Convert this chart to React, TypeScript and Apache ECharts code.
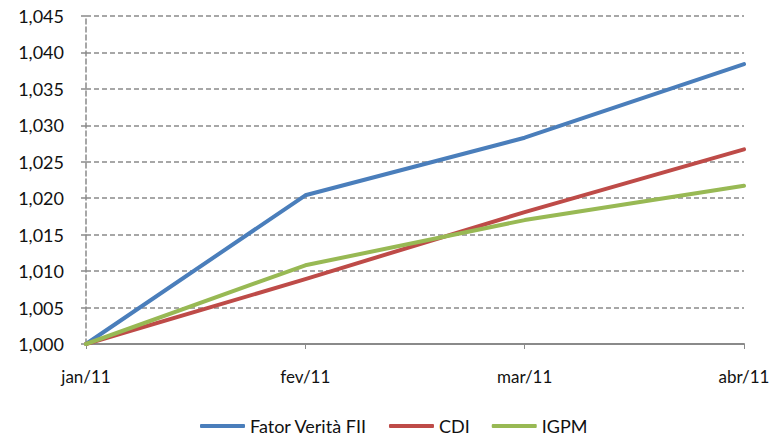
import React, { useEffect, useRef } from "react";
import * as echarts from "echarts";

const categories = ["jan/11", "fev/11", "mar/11", "abr/11"];
const fatorVerita = [1.0, 1.0204, 1.0283, 1.0384];
const cdi = [1.0, 1.0089, 1.0181, 1.0267];
const igpm = [1.0, 1.0108, 1.017, 1.0217];
const seriesNames = ["Fator Verità FII", "CDI", "IGPM"];
const colors = ["#4A7EBB", "#BE4B48", "#98B954"];

const FONT = "Lato, 'Open Sans', sans-serif";
const GRAY = "#8a8a8a";

export default function App() {
  const ref = useRef<HTMLDivElement>(null);
  useEffect(() => {
    if (!ref.current) return;
    const chart = echarts.init(ref.current, undefined, { renderer: "svg" });
    const data = [fatorVerita, cdi, igpm];
    chart.setOption({
      animation: false,
      backgroundColor: "#ffffff",
      textStyle: { fontFamily: FONT },
      grid: { left: 86, right: 29, top: 16, bottom: 92 },
      legend: {
        data: seriesNames,
        top: 411,
        left: 195,
        padding: 5,
        icon: "roundRect",
        itemWidth: 45,
        itemHeight: 4,
        itemGap: 22,
        textStyle: { fontFamily: FONT, fontSize: 18, lineHeight: 20, color: "#111" },
      },
      xAxis: {
        type: "category",
        data: categories,
        boundaryGap: false,
        axisLine: { lineStyle: { color: GRAY, width: 2 } },
        axisTick: { show: true, length: 5, lineStyle: { color: GRAY, width: 1 } },
        axisLabel: { fontFamily: FONT, fontSize: 17, color: "#111", margin: 24 },
        splitLine: { show: false },
      },
      yAxis: {
        type: "value",
        min: 1.0,
        max: 1.045,
        interval: 0.005,
        axisLine: { show: true, lineStyle: { color: GRAY, width: 1.5, type: [5, 3] } },
        axisTick: { show: true, length: 5, lineStyle: { color: GRAY, width: 1.5 } },
        axisLabel: {
          fontFamily: FONT,
          fontSize: 18,
          color: "#111",
          margin: 22,
          formatter: (v: number) => v.toFixed(3).replace(".", ","),
        },
        splitLine: { show: true, lineStyle: { color: GRAY, width: 1.5, type: [5, 3] } },
      },
      series: seriesNames.map((name, i) => ({
        name,
        type: "line",
        data: data[i],
        showSymbol: false,
        symbol: "none",
        lineStyle: { color: colors[i], width: 4, cap: "round", join: "round" },
        itemStyle: { color: colors[i] },
      })),
    });
    return () => chart.dispose();
  }, []);
  return <div ref={ref} style={{ width: 773, height: 436, position: "absolute", left: 0, top: 0 }} />;
}
